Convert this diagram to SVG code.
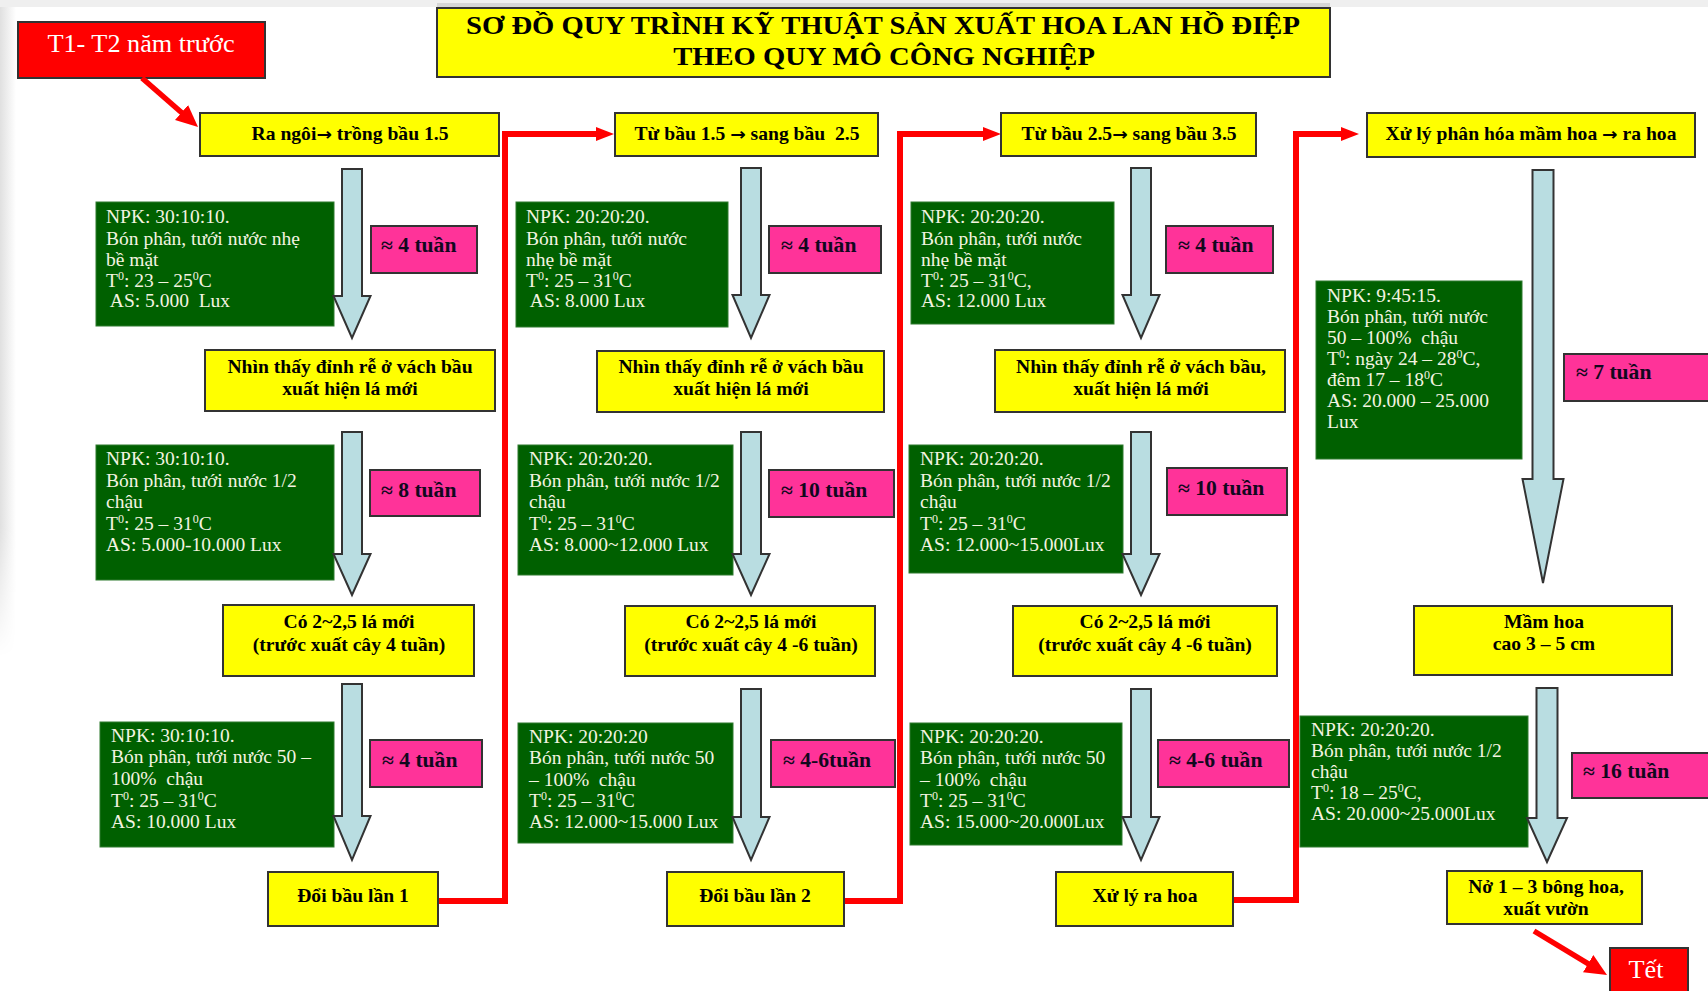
<svg xmlns="http://www.w3.org/2000/svg" width="1708" height="991" viewBox="0 0 1708 991">
<defs>
<style>
.yb{fill:#ffff00;stroke:#333;stroke-width:2}
.gb{fill:#006000;stroke:#2f7a2f;stroke-width:1}
.pb{fill:#ff3399;stroke:#333;stroke-width:2}
.rb{fill:#ff0000;stroke:#333;stroke-width:2}
.ba{fill:#b9dde1;stroke:#333;stroke-width:2;stroke-linejoin:miter}
.rl{fill:none;stroke:#ff0000;stroke-width:6;stroke-linejoin:miter}
.rd{fill:none;stroke:#ff0000;stroke-width:5.5}
text{font-family:"Liberation Serif","Times New Roman",serif;white-space:pre}
.tt{font-size:25px;font-weight:bold;fill:#000;text-anchor:middle}
.yt{font-size:18px;font-weight:bold;fill:#000;text-anchor:middle}
.ar{font-family:"DejaVu Sans",sans-serif;font-weight:bold;font-size:17px}
.pt{font-size:20px;font-weight:bold;fill:#12081e}
.gt{font-size:19.5px;fill:#f4f4e0}
.wt{font-size:25px;fill:#fff;text-anchor:middle}
.sup{font-size:12px;baseline-shift:super}
</style>
<linearGradient id="lg" x1="0" y1="0" x2="1" y2="0">
<stop offset="0" stop-color="#e0e0e0"/>
<stop offset="1" stop-color="#ffffff"/>
</linearGradient>
<linearGradient id="fade" x1="0" y1="0" x2="0" y2="1">
<stop offset="0" stop-color="#fff"/>
<stop offset="0.8" stop-color="#fff"/>
<stop offset="1" stop-color="#000"/>
</linearGradient>
<mask id="fm"><rect x="0" y="7" width="16" height="650" fill="url(#fade)"/></mask>
<marker id="ah" markerUnits="userSpaceOnUse" markerWidth="18" markerHeight="14" refX="6" refY="7" orient="auto">
<path d="M0,0 L18,7 L0,14 Z" fill="#ff0000"/>
</marker>
<marker id="ah2" markerUnits="userSpaceOnUse" markerWidth="22" markerHeight="20" refX="8" refY="10" orient="auto">
<path d="M0,0 L22,10 L0,20 Z" fill="#ff0000"/>
</marker>
</defs>

<rect x="0" y="0" width="1708" height="991" fill="#ffffff"/>
<rect x="0" y="0" width="1708" height="7" fill="#efefef"/>
<rect x="0" y="7" width="16" height="650" fill="url(#lg)" mask="url(#fm)"/>

<!-- title -->
<g id="title">
<rect x="437" y="3" width="893" height="6" fill="#d6d6d6"/>
<rect class="yb" x="437" y="8" width="893" height="69"/>
<text class="tt" transform="translate(883 0) scale(1.145 1)" x="0" y="34">SƠ ĐỒ QUY TRÌNH KỸ THUẬT SẢN XUẤT HOA LAN HỒ ĐIỆP</text>
<text class="tt" transform="translate(884 0) scale(1.145 1)" x="0" y="65">THEO QUY MÔ CÔNG NGHIỆP</text>
</g>

<g id="start">
<rect class="rb" x="18" y="22" width="247" height="56"/>
<text class="wt" transform="translate(141 0) scale(1.05 1)" x="0" y="52">T1- T2 năm trước</text>
</g>

<!-- green info boxes -->
<g id="info-1a"><rect class="gb" x="96" y="202" width="238" height="124"/>
<text class="gt" transform="translate(106 0)"><tspan x="0" y="223">NPK: 30:10:10.</tspan><tspan x="0" y="245">Bón phân, tưới nước nhẹ</tspan><tspan x="0" y="266">bề mặt</tspan><tspan x="0" y="287">T<tspan class="sup">0</tspan>: 23 – 25<tspan class="sup">0</tspan>C</tspan><tspan x="0" y="307"> AS: 5.000  Lux</tspan></text></g>
<g id="info-1b"><rect class="gb" x="96" y="445" width="238" height="135"/>
<text class="gt" transform="translate(106 0)"><tspan x="0" y="465">NPK: 30:10:10.</tspan><tspan x="0" y="487">Bón phân, tưới nước 1/2</tspan><tspan x="0" y="508">chậu</tspan><tspan x="0" y="530">T<tspan class="sup">0</tspan>: 25 – 31<tspan class="sup">0</tspan>C</tspan><tspan x="0" y="551">AS: 5.000-10.000 Lux</tspan></text></g>
<g id="info-1c"><rect class="gb" x="100" y="722" width="234" height="125"/>
<text class="gt" transform="translate(111 0)"><tspan x="0" y="742">NPK: 30:10:10.</tspan><tspan x="0" y="763">Bón phân, tưới nước 50 –</tspan><tspan x="0" y="785">100%  chậu</tspan><tspan x="0" y="807">T<tspan class="sup">0</tspan>: 25 – 31<tspan class="sup">0</tspan>C</tspan><tspan x="0" y="828">AS: 10.000 Lux</tspan></text></g>

<g id="info-2a"><rect class="gb" x="516" y="202" width="212" height="125"/>
<text class="gt" transform="translate(526 0)"><tspan x="0" y="223">NPK: 20:20:20.</tspan><tspan x="0" y="245">Bón phân, tưới nước</tspan><tspan x="0" y="266">nhẹ bề mặt</tspan><tspan x="0" y="287">T<tspan class="sup">0</tspan>: 25 – 31<tspan class="sup">0</tspan>C</tspan><tspan x="0" y="307"> AS: 8.000 Lux</tspan></text></g>
<g id="info-2b"><rect class="gb" x="518" y="445" width="215" height="130"/>
<text class="gt" transform="translate(529 0)"><tspan x="0" y="465">NPK: 20:20:20.</tspan><tspan x="0" y="487">Bón phân, tưới nước 1/2</tspan><tspan x="0" y="508">chậu</tspan><tspan x="0" y="530">T<tspan class="sup">0</tspan>: 25 – 31<tspan class="sup">0</tspan>C</tspan><tspan x="0" y="551">AS: 8.000~12.000 Lux</tspan></text></g>
<g id="info-2c"><rect class="gb" x="518" y="723" width="215" height="120"/>
<text class="gt" transform="translate(529 0)"><tspan x="0" y="743">NPK: 20:20:20</tspan><tspan x="0" y="764">Bón phân, tưới nước 50</tspan><tspan x="0" y="786">– 100%  chậu</tspan><tspan x="0" y="807">T<tspan class="sup">0</tspan>: 25 – 31<tspan class="sup">0</tspan>C</tspan><tspan x="0" y="828">AS: 12.000~15.000 Lux</tspan></text></g>

<g id="info-3a"><rect class="gb" x="911" y="202" width="203" height="122"/>
<text class="gt" transform="translate(921 0)"><tspan x="0" y="223">NPK: 20:20:20.</tspan><tspan x="0" y="245">Bón phân, tưới nước</tspan><tspan x="0" y="266">nhẹ bề mặt</tspan><tspan x="0" y="287">T<tspan class="sup">0</tspan>: 25 – 31<tspan class="sup">0</tspan>C,</tspan><tspan x="0" y="307">AS: 12.000 Lux</tspan></text></g>
<g id="info-3b"><rect class="gb" x="909" y="445" width="214" height="128"/>
<text class="gt" transform="translate(920 0)"><tspan x="0" y="465">NPK: 20:20:20.</tspan><tspan x="0" y="487">Bón phân, tưới nước 1/2</tspan><tspan x="0" y="508">chậu</tspan><tspan x="0" y="530">T<tspan class="sup">0</tspan>: 25 – 31<tspan class="sup">0</tspan>C</tspan><tspan x="0" y="551">AS: 12.000~15.000Lux</tspan></text></g>
<g id="info-3c"><rect class="gb" x="910" y="723" width="212" height="122"/>
<text class="gt" transform="translate(920 0)"><tspan x="0" y="743">NPK: 20:20:20.</tspan><tspan x="0" y="764">Bón phân, tưới nước 50</tspan><tspan x="0" y="786">– 100%  chậu</tspan><tspan x="0" y="807">T<tspan class="sup">0</tspan>: 25 – 31<tspan class="sup">0</tspan>C</tspan><tspan x="0" y="828">AS: 15.000~20.000Lux</tspan></text></g>

<g id="info-4a"><rect class="gb" x="1316" y="281" width="206" height="178"/>
<text class="gt" transform="translate(1327 0)"><tspan x="0" y="302">NPK: 9:45:15.</tspan><tspan x="0" y="323">Bón phân, tưới nước</tspan><tspan x="0" y="344">50 – 100%  chậu</tspan><tspan x="0" y="365">T<tspan class="sup">0</tspan>: ngày 24 – 28<tspan class="sup">0</tspan>C,</tspan><tspan x="0" y="386">đêm 17 – 18<tspan class="sup">0</tspan>C</tspan><tspan x="0" y="407">AS: 20.000 – 25.000</tspan><tspan x="0" y="428">Lux</tspan></text></g>
<g id="info-4b"><rect class="gb" x="1300" y="716" width="228" height="131"/>
<text class="gt" transform="translate(1311 0)"><tspan x="0" y="736">NPK: 20:20:20.</tspan><tspan x="0" y="757">Bón phân, tưới nước 1/2</tspan><tspan x="0" y="778">chậu</tspan><tspan x="0" y="799">T<tspan class="sup">0</tspan>: 18 – 25<tspan class="sup">0</tspan>C,</tspan><tspan x="0" y="820">AS: 20.000~25.000Lux</tspan></text></g>

<!-- connectors -->
<g id="connectors">
<path class="ba" d="M342,169 H362 V296 H370.5 L352,338 L333.5,296 H342 Z"/>
<path class="ba" d="M342,432 H362 V554 H370.5 L352,595 L333.5,554 H342 Z"/>
<path class="ba" d="M342,684 H362 V816 H370.5 L352,860 L333.5,816 H342 Z"/>
<path class="ba" d="M741,168 H761 V295 H769.5 L751,338 L732.5,295 H741 Z"/>
<path class="ba" d="M741,432 H761 V554 H769.5 L751,595 L732.5,554 H741 Z"/>
<path class="ba" d="M741,689 H761 V817 H769.5 L751,860 L732.5,817 H741 Z"/>
<path class="ba" d="M1131,168 H1151 V295 H1159.5 L1141,338 L1122.5,295 H1131 Z"/>
<path class="ba" d="M1131,432 H1151 V554 H1159.5 L1141,595 L1122.5,554 H1131 Z"/>
<path class="ba" d="M1131,689 H1151 V817 H1159.5 L1141,860 L1122.5,817 H1131 Z"/>
<path class="ba" d="M1532.5,170 H1553.5 V479 H1563.5 L1543,583 L1522.5,479 H1532.5 Z"/>
<path class="ba" d="M1536.5,688 H1557.5 V818 H1567 L1547,862 L1527,818 H1536.5 Z"/>
<polyline class="rl" points="438,901 505,901 505,134 602,134" marker-end="url(#ah)"/>
<polyline class="rl" points="844,901 900,901 900,134 989,134" marker-end="url(#ah)"/>
<polyline class="rl" points="1233,900 1296,900 1296,134 1347,134" marker-end="url(#ah)"/>
<line class="rd" x1="142" y1="78" x2="187.5" y2="117.8" marker-end="url(#ah2)"/>
<line class="rd" x1="1534" y1="931" x2="1595" y2="967.8" marker-end="url(#ah2)"/>
</g>

<!-- yellow nodes -->
<g id="n1a"><rect class="yb" x="200" y="113" width="299" height="43"/><text class="yt" transform="translate(350 0) scale(1.09 1)" x="0" y="140">Ra ngôi<tspan class="ar">→</tspan> trồng bầu 1.5</text></g>
<g id="n1b"><rect class="yb" x="205" y="350" width="290" height="61"/><text class="yt" transform="translate(350 0) scale(1.09 1)"><tspan x="0" y="373">Nhìn thấy đỉnh rễ ở vách bầu</tspan><tspan x="0" y="395">xuất hiện lá mới</tspan></text></g>
<g id="n1c"><rect class="yb" x="223" y="605" width="251" height="71"/><text class="yt" transform="translate(349 0) scale(1.09 1)"><tspan x="0" y="628">Có 2~2,5 lá mới</tspan><tspan x="0" y="651">(trước xuất cây 4 tuần)</tspan></text></g>
<g id="n1d"><rect class="yb" x="268" y="872" width="170" height="54"/><text class="yt" transform="translate(353 0) scale(1.09 1)" x="0" y="902">Đổi bầu lần 1</text></g>

<g id="n2a"><rect class="yb" x="615" y="113" width="263" height="43"/><text class="yt" transform="translate(747 0) scale(1.09 1)" x="0" y="140">Từ bầu 1.5 <tspan class="ar">→</tspan> sang bầu  2.5</text></g>
<g id="n2b"><rect class="yb" x="597" y="351" width="287" height="61"/><text class="yt" transform="translate(741 0) scale(1.09 1)"><tspan x="0" y="373">Nhìn thấy đỉnh rễ ở vách bầu</tspan><tspan x="0" y="395">xuất hiện lá mới</tspan></text></g>
<g id="n2c"><rect class="yb" x="625" y="606" width="250" height="70"/><text class="yt" transform="translate(751 0) scale(1.09 1)"><tspan x="0" y="628">Có 2~2,5 lá mới</tspan><tspan x="0" y="651">(trước xuất cây 4 -6 tuần)</tspan></text></g>
<g id="n2d"><rect class="yb" x="667" y="872" width="177" height="54"/><text class="yt" transform="translate(755 0) scale(1.09 1)" x="0" y="902">Đổi bầu lần 2</text></g>

<g id="n3a"><rect class="yb" x="1001" y="113" width="255" height="43"/><text class="yt" transform="translate(1129 0) scale(1.09 1)" x="0" y="140">Từ bầu 2.5<tspan class="ar">→</tspan> sang bầu 3.5</text></g>
<g id="n3b"><rect class="yb" x="995" y="350" width="290" height="62"/><text class="yt" transform="translate(1141 0) scale(1.09 1)"><tspan x="0" y="373">Nhìn thấy đỉnh rễ ở vách bầu,</tspan><tspan x="0" y="395">xuất hiện lá mới</tspan></text></g>
<g id="n3c"><rect class="yb" x="1013" y="606" width="264" height="70"/><text class="yt" transform="translate(1145 0) scale(1.09 1)"><tspan x="0" y="628">Có 2~2,5 lá mới</tspan><tspan x="0" y="651">(trước xuất cây 4 -6 tuần)</tspan></text></g>
<g id="n3d"><rect class="yb" x="1056" y="872" width="177" height="54"/><text class="yt" transform="translate(1145 0) scale(1.09 1)" x="0" y="902">Xử lý ra hoa</text></g>

<g id="n4a"><rect class="yb" x="1367" y="113" width="328" height="44"/><text class="yt" transform="translate(1531 0) scale(1.09 1)" x="0" y="140">Xử lý phân hóa mầm hoa <tspan class="ar">→</tspan> ra hoa</text></g>
<g id="n4b"><rect class="yb" x="1414" y="606" width="258" height="69"/><text class="yt" transform="translate(1544 0) scale(1.09 1)"><tspan x="0" y="628">Mầm hoa</tspan><tspan x="0" y="650">cao 3 – 5 cm</tspan></text></g>
<g id="n4c"><rect class="yb" x="1447" y="871" width="195" height="53"/><text class="yt" transform="translate(1546 0) scale(1.09 1)"><tspan x="0" y="893">Nở 1 – 3 bông hoa,</tspan><tspan x="0" y="915">xuất vườn</tspan></text></g>

<g id="end">
<rect class="rb" x="1610" y="948" width="78" height="60"/>
<text class="wt" transform="translate(1646 0) scale(1.05 1)" x="0" y="978">Tết</text>
</g>

<!-- duration labels -->
<g id="d1a"><rect class="pb" x="371" y="226" width="106" height="47"/><text class="pt" transform="translate(381 0) scale(1.08 1)" x="0" y="252">≈ 4 tuần</text></g>
<g id="d1b"><rect class="pb" x="370" y="470" width="110" height="46"/><text class="pt" transform="translate(381 0) scale(1.08 1)" x="0" y="497">≈ 8 tuần</text></g>
<g id="d1c"><rect class="pb" x="370" y="740" width="112" height="47"/><text class="pt" transform="translate(382 0) scale(1.08 1)" x="0" y="767">≈ 4 tuần</text></g>
<g id="d2a"><rect class="pb" x="769" y="226" width="112" height="47"/><text class="pt" transform="translate(781 0) scale(1.08 1)" x="0" y="252">≈ 4 tuần</text></g>
<g id="d2b"><rect class="pb" x="769" y="470" width="125" height="47"/><text class="pt" transform="translate(781 0) scale(1.08 1)" x="0" y="497">≈ 10 tuần</text></g>
<g id="d2c"><rect class="pb" x="771" y="740" width="124" height="47"/><text class="pt" transform="translate(783 0) scale(1.08 1)" x="0" y="767">≈ 4-6tuần</text></g>
<g id="d3a"><rect class="pb" x="1166" y="226" width="107" height="47"/><text class="pt" transform="translate(1178 0) scale(1.08 1)" x="0" y="252">≈ 4 tuần</text></g>
<g id="d3b"><rect class="pb" x="1167" y="468" width="120" height="47"/><text class="pt" transform="translate(1178 0) scale(1.08 1)" x="0" y="495">≈ 10 tuần</text></g>
<g id="d3c"><rect class="pb" x="1158" y="740" width="131" height="47"/><text class="pt" transform="translate(1169 0) scale(1.08 1)" x="0" y="767">≈ 4-6 tuần</text></g>
<g id="d4a"><rect class="pb" x="1564" y="354" width="150" height="47"/><text class="pt" transform="translate(1576 0) scale(1.08 1)" x="0" y="379">≈ 7 tuần</text></g>
<g id="d4b"><rect class="pb" x="1572" y="753" width="140" height="45"/><text class="pt" transform="translate(1583 0) scale(1.08 1)" x="0" y="778">≈ 16 tuần</text></g>
</svg>
